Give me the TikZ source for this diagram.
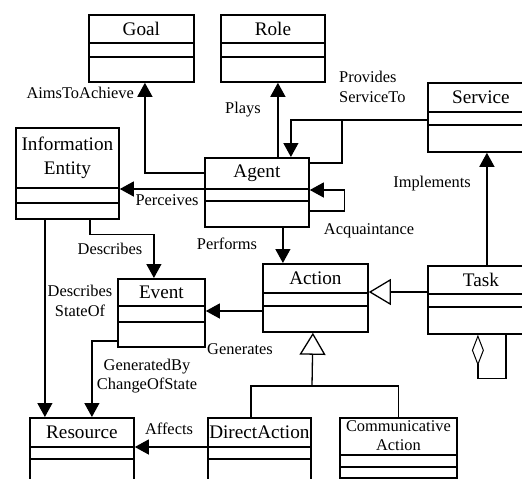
\documentclass[tikz,border=0pt]{standalone}
\usepackage{fontspec}
\setmainfont{Liberation Serif}
\usetikzlibrary{arrows.meta,calc}

\begin{document}
\begin{tikzpicture}[x=1pt,y=-1pt,
    umlbox/.style={draw, line width=1.8pt, rectangle, inner sep=0pt, anchor=north west},
    title/.style={font=\fontsize{19.2}{24}\selectfont, align=center, inner sep=0pt},
    lbl/.style={font=\fontsize{16.4}{19.5}\selectfont, align=center, inner sep=0pt},
    conn/.style={line width=1.3pt},
    assoc/.style={conn, -{Triangle[length=14pt,width=15pt]}},
    gen/.style={conn, -{Triangle[open,length=22pt,width=26pt,line width=1.3pt]}}
  ]
    \useasboundingbox (0,0) rectangle (522,479);

    % classes: name / x / y / width / height / first and second separator / title
    \foreach \n/\x/\y/\w/\h/\a/\b/\t in {
        goal/88/14/105/67/29/43/Goal,
        role/220/14/104/67/29/43/Role,
        service/427/82/106/69/30/43/Service,
        info/15/127/103/91/61/76/{Information\\Entity},
        agent/204/157/104/69/32/44/Agent,
        action/262/263/105/68/30/43/Action,
        task/427/265/106/68/29/42/Task,
        event/117/278/87/68/28/44/Event,
        resource/29/417/104/80/30/42/Resource,
        direct/207/417/103/80/30/42/DirectAction}
    {
      \node[umlbox, minimum width=\w pt, minimum height=\h pt] (\n) at (\x,\y) {};
      \draw[line width=1.8pt] ([yshift=-\a pt]\n.north west) -- ([yshift=-\a pt]\n.north east);
      \draw[line width=1.8pt] ([yshift=-\b pt]\n.north west) -- ([yshift=-\b pt]\n.north east);
      \node[title] at ($(\n.north)+(0,\a/2)$) {\t};
    }

    \node[umlbox, minimum width=117pt, minimum height=60pt] (comm) at (339,417) {};
    \draw[line width=1.8pt] ([yshift=-38pt]comm.north west) -- ([yshift=-38pt]comm.north east);
    \draw[line width=1.8pt] ([yshift=-50pt]comm.north west) -- ([yshift=-50pt]comm.north east);
    \node[lbl, font=\fontsize{16.4}{19}\selectfont] at ($(comm.north)+(0,19)$) {Communicative\\Action};

    % associations
    \draw[assoc] ([yshift=-16pt]agent.north west) -| ([xshift=3.5pt]goal.south);
    \draw[assoc] ([xshift=21pt]agent.north) -- ([xshift=5pt]role.south);
    \draw[assoc] ([yshift=-38pt]service.north west) -| ([xshift=34pt]agent.north);
    \coordinate (pj) at (342,120);
    \draw[conn] ([yshift=-6pt]agent.north east) -| (pj);
    \draw[assoc] ([yshift=-54pt]agent.north east) -- ++(35,0) |- ([yshift=-33pt]agent.north east);
    \draw[assoc] ([yshift=-32pt]agent.north west) -- ([yshift=-62pt]info.north east);
    \draw[assoc] ([xshift=6pt]task.north) -- ([xshift=6pt]service.south);
    \draw[assoc] ([xshift=26pt]agent.south) -- ([xshift=-32.5pt]action.north);
    \draw[assoc] ([yshift=-48pt]action.north west) -- ([yshift=-33pt]event.north east);
    \draw[assoc] ([xshift=22.5pt]info.south) -- ++(0,15) -| ([xshift=-7.5pt]event.north);
    \draw[assoc] ([xshift=-22.5pt]info.south) -- ([xshift=-37pt]resource.north);
    \draw[assoc] ([yshift=-63pt]event.north west) -| ([xshift=10pt]resource.north);
    \draw[assoc] ([yshift=-30pt]direct.north west) -- ([yshift=-30pt]resource.north east);

    % generalisation and aggregation
    \draw[gen] ([yshift=-27pt]task.north west) -- ([yshift=-29pt]action.north east);
    \coordinate (gj) at (312,386);
    \draw[gen] (gj) -- ([xshift=-2.5pt]action.south);
    \draw[conn] ([xshift=-8.5pt]direct.north) |- (gj) -| (comm.north);
    \draw[conn, {Diamond[open,length=31pt,width=12pt,line width=1pt]}-]
      ([xshift=-3pt]task.south) -- ++(0,44) -| ([xshift=25pt]task.south);

    % labels
    \node[lbl, anchor=east] at (134,93) {AimsToAchieve};
    \node[lbl] at (243,110) {Plays};
    \node[lbl, anchor=west, align=left] at (339,87) {Provides\\ServiceTo};
    \node[lbl] at (369,231) {Acquaintance};
    \node[lbl] at (432,184) {Implements};
    \node[lbl] at (167,200) {Perceives};
    \node[lbl] at (227,244) {Performs};
    \node[lbl] at (110,249) {Describes};
    \node[lbl] at (80,301) {Describes\\StateOf};
    \node[lbl] at (147,376) {GeneratedBy\\ChangeOfState};
    \node[lbl] at (240,349) {Generates};
    \node[lbl] at (169,429) {Affects};
\end{tikzpicture}
\end{document}
